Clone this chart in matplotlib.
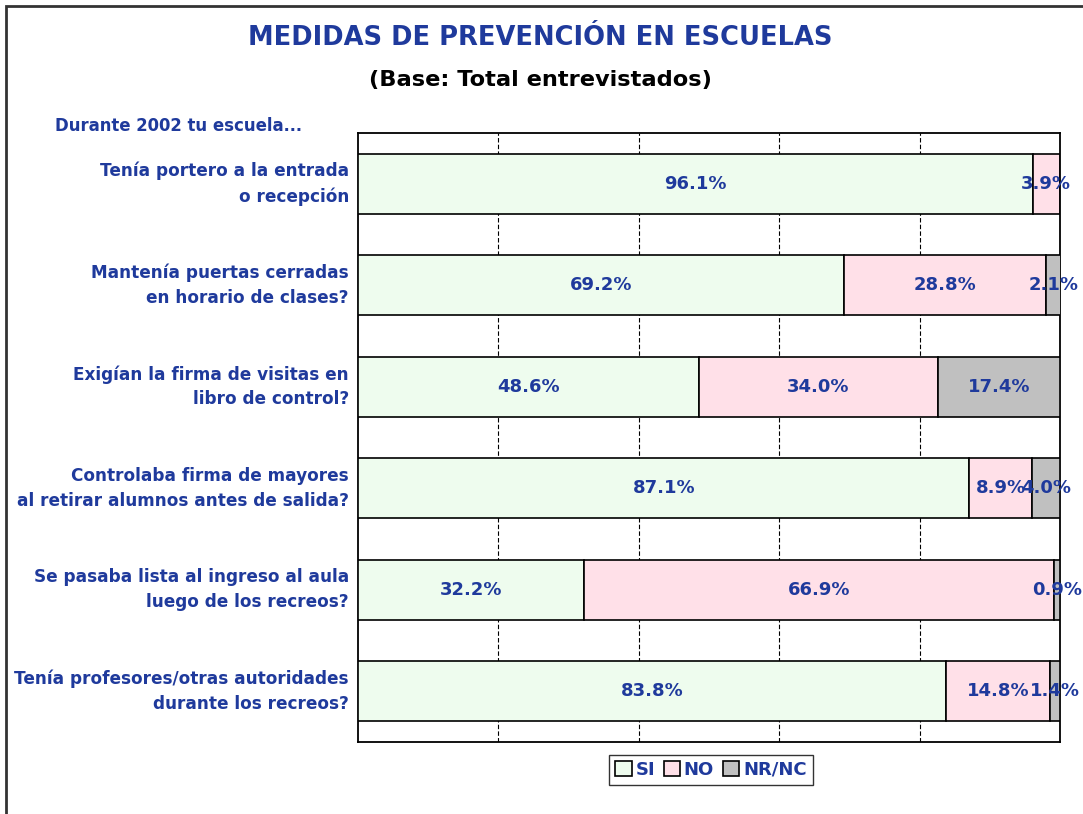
import matplotlib
matplotlib.use("Agg")
import matplotlib.pyplot as plt
from matplotlib.patches import Rectangle
import numpy as np

categories = [
    "Tenía portero a la entrada\no recepción",
    "Mantenía puertas cerradas\nen horario de clases?",
    "Exigían la firma de visitas en\nlibro de control?",
    "Controlaba firma de mayores\nal retirar alumnos antes de salida?",
    "Se pasaba lista al ingreso al aula\nluego de los recreos?",
    "Tenía profesores/otras autoridades\ndurante los recreos?",
]
si = [96.1, 69.2, 48.6, 87.1, 32.2, 83.8]
no = [3.9, 28.8, 34.0, 8.9, 66.9, 14.8]
nrnc = [0.0, 2.1, 17.4, 4.0, 0.9, 1.4]
series_names = ["SI", "NO", "NR/NC"]
colors = ["#EEFCEE", "#FFE0E8", "#C0C0C0"]
blue = "#1F3A9C"

W, H = 1083, 814
fig = plt.figure(figsize=(W / 100, H / 100), dpi=100)
fig.patch.set_facecolor("white")

# outer frame (cut at right and bottom)
frame = Rectangle((6 / W, -0.05), 1.2, 1 - 6 / H + 0.05, transform=fig.transFigure,
                  fill=False, edgecolor="#333333", linewidth=2)
fig.patches.append(frame)

ax = fig.add_axes([358 / W, 72 / H, 702 / W, 609 / H])
n = len(categories)
y = np.arange(n)
left = np.zeros(n)
for vals, name, col in zip([si, no, nrnc], series_names, colors):
    vals = np.array(vals)
    ax.barh(y, vals, left=left, height=0.59, color=col, edgecolor="black",
            linewidth=1.2, label=name, zorder=3)
    for yi, l, v in zip(y, left, vals):
        if v > 0:
            ax.text(l + v / 2, yi, f"{v:.1f}%", ha="center", va="center",
                    color=blue, fontsize=13, fontweight="bold", zorder=5,
                    clip_on=False)
    left = left + vals

ax.set_xlim(0, 100)
ax.set_ylim(n - 0.5, -0.5)
ax.set_xticks([20, 40, 60, 80])
ax.set_yticks([])
ax.tick_params(axis="x", length=0, labelbottom=False)
ax.grid(axis="x", color="black", linestyle=(0, (4, 2)), linewidth=0.8, zorder=0)
for s in ax.spines.values():
    s.set_color("black")
    s.set_linewidth(1.3)

for yi, cat in zip(y, categories):
    ax.annotate(cat, xy=(0, yi), xycoords=("axes fraction", "data"),
                xytext=(-9, 0), textcoords="offset pixels",
                ha="right", va="center", multialignment="right",
                color=blue, fontsize=12.2, fontweight="bold", linespacing=1.5)

fig.text(540 / W, 1 - 38 / H, "MEDIDAS DE PREVENCIÓN EN ESCUELAS", ha="center", va="center",
         color=blue, fontsize=18.5, fontweight="bold")
fig.text(540 / W, 1 - 80 / H, "(Base: Total entrevistados)", ha="center", va="center",
         color="black", fontsize=16.2, fontweight="bold")
fig.text(55 / W, 1 - 126 / H, "Durante 2002 tu escuela...", ha="left", va="center",
         color=blue, fontsize=11.9, fontweight="bold")

leg = fig.legend(loc="center", bbox_to_anchor=(711 / W, 44 / H), ncol=3,
                 frameon=True, fancybox=False, edgecolor="black",
                 handlelength=0.9, handleheight=0.9, handletextpad=0.2,
                 columnspacing=0.5, borderpad=0.35,
                 prop={"size": 13, "weight": "bold"})
leg.get_frame().set_linewidth(1.0)
for t in leg.get_texts():
    t.set_color(blue)

fig.savefig("out.png", dpi=100, facecolor="white")
